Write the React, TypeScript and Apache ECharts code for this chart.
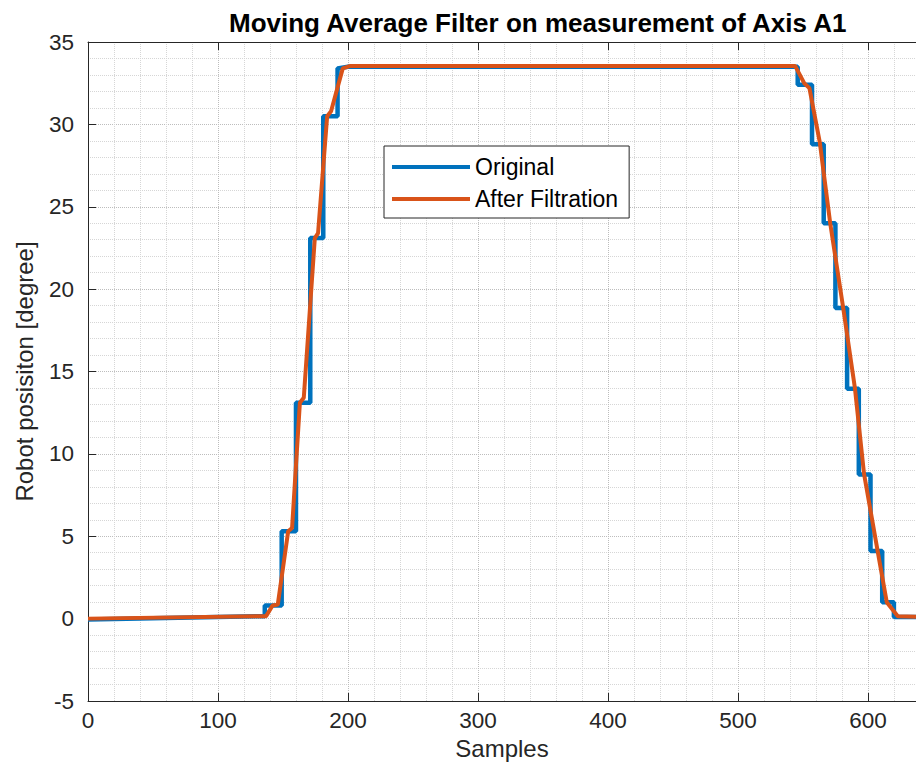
import React, { useEffect, useRef } from "react";
import * as echarts from "echarts";

// [sample, degree] — original measurement (staircase)
const originalData: [number, number][] = [
  [0, -0.05], [136, 0.15], [136, 0.8], [149, 0.8], [149, 5.3], [160, 5.3], [160, 13.1],
  [171, 13.1], [171, 23.1], [181, 23.1], [181, 30.5], [192, 30.5], [192, 33.4], [200, 33.5],
  [546, 33.5], [546, 32.4], [557, 32.4], [557, 28.8], [566, 28.8], [566, 24.0], [575, 24.0],
  [575, 18.85], [584, 18.85], [584, 13.95], [593, 13.95], [593, 8.75], [602, 8.75], [602, 4.1],
  [611, 4.1], [611, 1.0], [620, 1.0], [620, 0.1], [640, 0.1],
];

// [sample, degree] — after moving average filtration
const filteredData: [number, number][] = [
  [0, 0], [137, 0.15], [142, 0.8], [146, 0.85], [154, 5.3], [157, 5.5], [163, 13.1], [166, 13.4],
  [174.5, 23.1], [177, 23.4], [184, 30.5], [187, 30.8], [196, 33.4], [202, 33.55],
  [544, 33.55], [551, 32.5], [555, 32.2], [563, 28.9], [571, 24.0], [581, 18.85], [590, 14.0],
  [597, 8.8], [607.5, 4.1], [614.5, 1.0], [623, 0.15], [640, 0.1],
];

const seriesNames = ["Original", "After Filtration"];
const titleText = "Moving Average Filter on measurement of Axis A1";
const xName = "Samples";
const yName = "Robot posisiton [degree]";
const xMax = 637;

const FONT = "Liberation Sans, Arial, Helvetica, sans-serif";
const AX = "#262626";

export default function App() {
  const ref = useRef<HTMLDivElement>(null);
  useEffect(() => {
    if (!ref.current) return;
    document.body.style.margin = "0";
    document.body.style.overflow = "hidden";
    const chart = echarts.init(ref.current, undefined, { renderer: "svg", width: 916, height: 783 });
    chart.setOption({
      animation: false,
      backgroundColor: "#ffffff",
      title: {
        text: titleText,
        left: 224,
        top: 5,
        textStyle: { fontFamily: FONT, fontSize: 26, fontWeight: "bold", color: "#000" },
      },
      legend: {
        data: seriesNames,
        orient: "vertical",
        left: 384,
        top: 146,
        icon: "rect",
        itemWidth: 78,
        itemHeight: 4,
        itemGap: 6,
        padding: [8, 11, 6, 8],
        borderColor: AX,
        borderWidth: 1,
        backgroundColor: "#fff",
        borderRadius: 0,
        textStyle: { fontFamily: FONT, fontSize: 23, color: "#000", lineHeight: 26 },
      },
      grid: { left: 88, top: 42, bottom: 82, right: 0, containLabel: false, outerBoundsMode: "none" },
      xAxis: [
        {
          type: "value",
          min: 0,
          max: xMax,
          interval: 100,
          name: xName,
          nameLocation: "middle",
          nameGap: 31,
          nameTextStyle: { fontFamily: FONT, fontSize: 24, color: AX },
          axisLine: { show: true, onZero: false, lineStyle: { color: AX, width: 1 } },
          axisTick: { show: true, inside: true, length: 8, lineStyle: { color: AX } },
          axisLabel: { fontFamily: FONT, fontSize: 22.5, color: AX, margin: 8, showMaxLabel: false },
          splitLine: { show: true, lineStyle: { type: "dotted", color: "#bdbdbd", width: 1 } },
          minorTick: { show: false, splitNumber: 5 },
          minorSplitLine: { show: true, lineStyle: { type: "dotted", color: "#d6d6d6", width: 1 } },
        },
        {
          type: "value",
          position: "top",
          min: 0,
          max: xMax,
          interval: 100,
          axisLine: { show: true, onZero: false, lineStyle: { color: AX, width: 1 } },
          axisTick: { show: true, inside: true, length: 8, lineStyle: { color: AX } },
          axisLabel: { show: false },
          splitLine: { show: false },
        },
      ],
      yAxis: {
        type: "value",
        min: -5,
        max: 35,
        interval: 5,
        name: yName,
        nameLocation: "middle",
        nameGap: 52,
        nameTextStyle: { fontFamily: FONT, fontSize: 24, color: AX },
        axisLine: { show: true, onZero: false, lineStyle: { color: AX, width: 1 } },
        axisTick: { show: true, inside: true, length: 8, lineStyle: { color: AX } },
        axisLabel: { fontFamily: FONT, fontSize: 22.5, color: AX, margin: 14 },
        splitLine: { show: true, lineStyle: { type: "dotted", color: "#bdbdbd", width: 1 } },
        minorTick: { show: false, splitNumber: 5 },
        minorSplitLine: { show: true, lineStyle: { type: "dotted", color: "#d6d6d6", width: 1 } },
      },
      series: [
        {
          name: seriesNames[0],
          type: "line",
          xAxisIndex: 0,
          data: originalData,
          showSymbol: false,
          symbol: "none",
          color: "#0072BD",
          lineStyle: { width: 4.5, color: "#0072BD" },
          z: 2,
        },
        {
          name: seriesNames[1],
          type: "line",
          xAxisIndex: 0,
          data: filteredData,
          showSymbol: false,
          symbol: "none",
          color: "#D95319",
          lineStyle: { width: 4, color: "#D95319" },
          z: 3,
        },
      ],
    });
    return () => chart.dispose();
  }, []);
  return (
    <div
      ref={ref}
      style={{ position: "fixed", left: 0, top: 0, width: 916, height: 783, overflow: "hidden" }}
    />
  );
}
